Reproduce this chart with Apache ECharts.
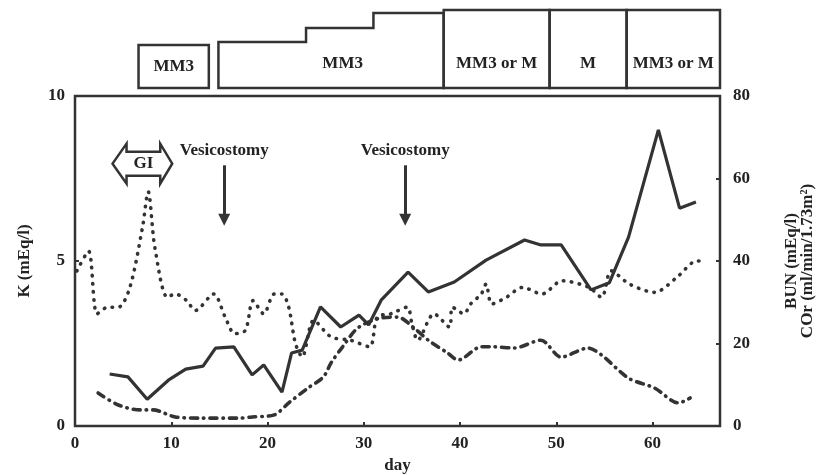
<!DOCTYPE html>
<html>
<head>
<meta charset="utf-8">
<script src="https://cdn.jsdelivr.net/npm/echarts@6.0.0/dist/echarts.min.js"></script>
<style>
  html, body { margin: 0; padding: 0; background: #fff; }
  #chart { width: 816px; height: 475px; }
</style>
</head>
<body>
<div id="chart"></div>
<script>
// K (mEq/l), dotted line, left axis
const kDays = [0.2, 1.4, 2.3, 3.4, 4.5, 5.7, 7.0, 7.6, 8.3, 9.6, 10.4, 11.6, 12.5, 14.4, 15.6, 16.6, 17.7, 18.5, 19.6, 20.7, 21.5, 22.2, 22.9, 23.6, 24.8, 26.6, 28.6, 30.6, 31.4, 32.8, 34.5, 35.0, 35.6, 37.3, 38.9, 39.2, 40.4, 41.1, 42.2, 42.7, 43.3, 44.8, 46.5, 48.5, 50.6, 53.4, 54.7, 55.7, 57.6, 60.2, 62.5, 64.6, 65.2]
const kVals = [4.7, 5.3, 3.4, 3.6, 3.6, 4.2, 6.0, 7.1, 5.4, 3.9, 4.0, 3.8, 3.5, 4.0, 3.3, 2.8, 2.9, 3.8, 3.4, 4.0, 4.0, 3.6, 2.5, 2.1, 3.2, 2.7, 2.6, 2.4, 3.3, 3.4, 3.6, 3.1, 2.6, 3.4, 3.0, 3.6, 3.4, 3.7, 4.0, 4.3, 3.7, 3.9, 4.2, 4.0, 4.4, 4.2, 3.9, 4.7, 4.3, 4.05, 4.5, 5.0, 5.0]

// BUN (mEq/l), solid line, right axis
const bunDays = [3.6, 5.5, 7.5, 9.7, 11.5, 13.3, 14.6, 16.5, 18.4, 19.6, 21.5, 22.5, 23.6, 25.5, 27.6, 29.5, 30.5, 31.8, 34.6, 36.7, 39.4, 42.7, 46.7, 48.4, 50.5, 53.6, 55.5, 57.5, 60.6, 62.8, 64.5]
const bunVals = [12.6, 11.9, 6.5, 11.1, 13.8, 14.5, 18.9, 19.2, 12.4, 14.8, 8.2, 17.7, 18.4, 28.9, 24.0, 26.9, 24.5, 30.5, 37.3, 32.5, 34.9, 40.2, 45.1, 43.9, 43.9, 33.0, 34.7, 45.8, 71.8, 52.8, 54.3]

// COr (ml/min/1.73m2), dash-dot line, right axis
const corDays = [2.4, 4.5, 6.8, 8.1, 10.4, 13.2, 17.0, 18.4, 20.7, 22.2, 24.2, 25.8, 26.6, 27.8, 29.4, 31.8, 33.5, 35.2, 36.7, 38.7, 39.8, 42.2, 43.5, 45.6, 48.4, 50.5, 53.3, 54.7, 57.5, 60.2, 62.7, 63.9]
const corVals = [8.0, 5.1, 3.9, 3.9, 2.2, 1.9, 1.9, 2.2, 2.7, 5.6, 9.2, 11.9, 15.3, 19.2, 23.8, 26.2, 26.4, 23.8, 20.8, 17.7, 16.0, 19.2, 19.2, 18.9, 20.8, 16.7, 18.9, 17.2, 11.6, 9.2, 5.6, 6.8]

// formula periods drawn above the plot
const regimens = ['MM3', 'MM3', 'MM3 or M', 'M', 'MM3 or M']
const regStart = [6.6, 14.9, 38.3, 49.3, 57.3]
const regEnd = [13.9, 38.3, 49.3, 57.3, 67]
const doseStepDays = [24, 31]

// events
const surgeryDays = [15.5, 34.3]
const giDays = [3.9, 10.1]

const xTicks = [0, 10, 20, 30, 40, 50, 60]

const ink = '#333'
const font = 'Liberation Serif'
const txt = { color: '#222', fontFamily: font, fontWeight: 'bold', fontSize: 17 }

const pairs = (xs, ys) => xs.map((x, i) => [x, ys[i]])

const chart = echarts.init(document.getElementById('chart'), null, { renderer: 'canvas' })

const option = {
    animation: false,
    backgroundColor: '#fff',
    grid: [
        { left: 75, right: 96, top: 96, bottom: 49, outerBoundsMode: 'none', show: true, borderColor: ink, borderWidth: 2.5, backgroundColor: 'transparent' },
        { left: 75, right: 96, top: 10, bottom: 387, outerBoundsMode: 'none' }
    ],
    xAxis: [
        {
            type: 'value', gridIndex: 0, min: 0, max: 67, interval: 10,
            name: 'day', nameLocation: 'middle', nameGap: 28,
            nameTextStyle: txt,
            axisLine: { show: false },
            axisTick: { inside: true, length: 4, lineStyle: { color: ink, width: 2 } },
            axisLabel: Object.assign({ margin: 9, formatter: v => xTicks.includes(v) ? String(v) : '' }, txt),
            splitLine: { show: false }
        },
        { type: 'value', gridIndex: 1, min: 0, max: 67, show: false }
    ],
    yAxis: [
        {
            type: 'value', gridIndex: 0, min: 0, max: 10, interval: 5,
            name: 'K (mEq/l)', nameLocation: 'middle', nameGap: 42, nameRotate: 90,
            nameTextStyle: txt,
            axisLine: { show: false },
            axisTick: { inside: true, length: 4, lineStyle: { color: ink, width: 2 } },
            axisLabel: Object.assign({ margin: 10 }, txt),
            splitLine: { show: false }
        },
        {
            type: 'value', gridIndex: 0, position: 'right', min: 0, max: 80, interval: 20,
            name: 'BUN (mEq/l)\nCOr (ml/min/1.73m²)', nameLocation: 'middle', nameGap: 64, nameRotate: 90,
            nameTextStyle: Object.assign({ lineHeight: 16 }, txt),
            axisLine: { show: false },
            axisTick: { inside: true, length: 4, lineStyle: { color: ink, width: 2 } },
            axisLabel: Object.assign({ margin: 13 }, txt),
            splitLine: { show: false }
        },
        { type: 'value', gridIndex: 1, min: 0, max: 1, show: false }
    ],
    series: [
        {
            name: 'K', type: 'line', xAxisIndex: 0, yAxisIndex: 0,
            data: pairs(kDays, kVals),
            showSymbol: false, smooth: 0.3,
            lineStyle: { color: ink, width: 3.6, type: [0.5, 7.5], cap: 'round' },
            markLine: {
                silent: true, animation: false,
                symbol: ['none', 'triangle'], symbolSize: [12, 12],
                lineStyle: { color: ink, width: 3, type: 'solid' },
                label: Object.assign({ show: true, position: 'start', distance: 6, formatter: 'Vesicostomy' }, txt),
                data: surgeryDays.map(d => [{ coord: [d, 7.9] }, { coord: [d, 6.25] }])
            }
        },
        {
            name: 'BUN', type: 'line', xAxisIndex: 0, yAxisIndex: 1,
            data: pairs(bunDays, bunVals),
            showSymbol: false,
            lineStyle: { color: ink, width: 3.2 }
        },
        {
            name: 'COr', type: 'line', xAxisIndex: 0, yAxisIndex: 1,
            data: pairs(corDays, corVals),
            showSymbol: false, smooth: 0.3,
            lineStyle: { color: ink, width: 3.6, type: [7, 6, 0.5, 6], cap: 'round' }
        },
        {
            name: 'regimen', type: 'custom', xAxisIndex: 1, yAxisIndex: 2,
            data: regStart.map((s, i) => [s, regEnd[i]]),
            silent: true,
            renderItem (params, api) {
                const i = params.dataIndex
                const s = api.value(0)
                const e = api.value(1)
                let pts
                if (i === 1) {
                    pts = [[s, 0], [s, 0.59], [doseStepDays[0], 0.59], [doseStepDays[0], 0.77],
                        [doseStepDays[1], 0.77], [doseStepDays[1], 0.96], [e, 0.96], [e, 0]]
                } else {
                    const top = i === 0 ? 0.55 : 1
                    pts = [[s, 0], [s, top], [e, top], [e, 0]]
                }
                const c = api.coord([(s + e) / 2 + (i === 1 ? 1.2 : 0), i === 0 ? 0.28 : 0.31])
                return {
                    type: 'group',
                    children: [
                        {
                            type: 'polygon',
                            shape: { points: pts.map(p => api.coord(p)) },
                            style: { fill: null, stroke: ink, lineWidth: 2.5 }
                        },
                        {
                            type: 'text',
                            style: {
                                text: regimens[i], x: c[0], y: c[1], align: 'center', verticalAlign: 'middle',
                                fill: '#222', font: 'bold 17px "' + font + '"'
                            }
                        }
                    ]
                }
            }
        }
    ]
}
chart.setOption(option)

// GI double arrow, placed through the K axis scale
const pL = chart.convertToPixel({ xAxisIndex: 0, yAxisIndex: 0 }, [giDays[0], 7.95])
const pR = chart.convertToPixel({ xAxisIndex: 0, yAxisIndex: 0 }, [giDays[1], 7.95])
const L = pL[0], R = pR[0], cy = pL[1]
chart.setOption({
    graphic: [
        {
            type: 'polygon', silent: true,
            shape: {
                points: [[L, cy], [L + 14, cy - 20], [L + 14, cy - 12], [R - 12, cy - 12], [R - 12, cy - 20],
                    [R, cy], [R - 12, cy + 20], [R - 12, cy + 12], [L + 14, cy + 12], [L + 14, cy + 20]]
            },
            style: { fill: null, stroke: ink, lineWidth: 2.5 }
        },
        {
            type: 'text', silent: true,
            style: {
                text: 'GI', x: (L + R) / 2 + 1, y: cy, align: 'center', verticalAlign: 'middle',
                fill: '#222', font: 'bold 17px "' + font + '"'
            }
        }
    ]
})
</script>
</body>
</html>
